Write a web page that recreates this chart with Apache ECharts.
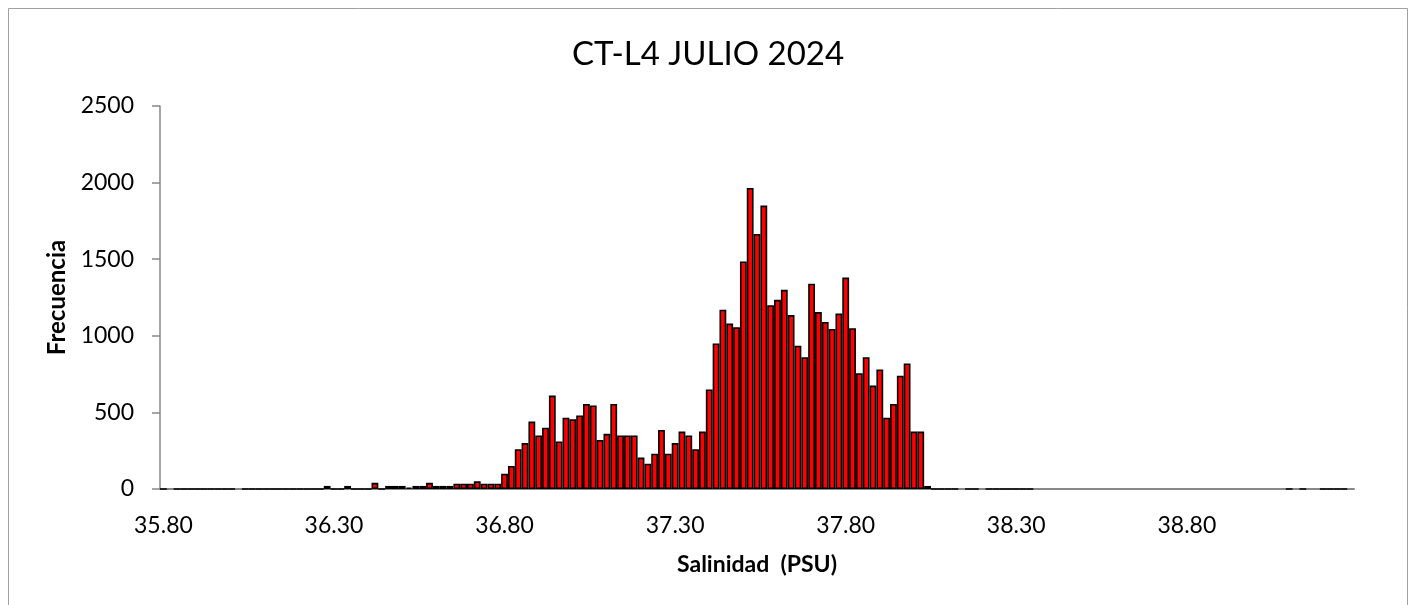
<!DOCTYPE html>
<html>
<head>
<meta charset="utf-8">
<script src="https://cdn.jsdelivr.net/npm/echarts@6/dist/echarts.min.js"></script>
<style>
  html, body { margin: 0; padding: 0; background: #ffffff; }
  #chart { width: 1416px; height: 605px; }
</style>
</head>
<body>
<div id="chart"></div>
<script>
// Bin labels (salinity, PSU), one per histogram bar
const categories = [
  '35.80','35.82','35.84','35.86','35.88','35.90','35.92','35.94','35.96','35.98',
  '36.00','36.02','36.04','36.06','36.08','36.10','36.12','36.14','36.16','36.18',
  '36.20','36.22','36.24','36.26','36.28','36.30','36.32','36.34','36.36','36.38',
  '36.40','36.42','36.44','36.46','36.48','36.50','36.52','36.54','36.56','36.58',
  '36.60','36.62','36.64','36.66','36.68','36.70','36.72','36.74','36.76','36.78',
  '36.80','36.82','36.84','36.86','36.88','36.90','36.92','36.94','36.96','36.98',
  '37.00','37.02','37.04','37.06','37.08','37.10','37.12','37.14','37.16','37.18',
  '37.20','37.22','37.24','37.26','37.28','37.30','37.32','37.34','37.36','37.38',
  '37.40','37.42','37.44','37.46','37.48','37.50','37.52','37.54','37.56','37.58',
  '37.60','37.62','37.64','37.66','37.68','37.70','37.72','37.74','37.76','37.78',
  '37.80','37.82','37.84','37.86','37.88','37.90','37.92','37.94','37.96','37.98',
  '38.00','38.02','38.04','38.06','38.08','38.10','38.12','38.14','38.16','38.18',
  '38.20','38.22','38.24','38.26','38.28','38.30','38.32','38.34','38.36','38.38',
  '38.40','38.42','38.44','38.46','38.48','38.50','38.52','38.54','38.56','38.58',
  '38.60','38.62','38.64','38.66','38.68','38.70','38.72','38.74','38.76','38.78',
  '38.80','38.82','38.84','38.86','38.88','38.90','38.92','38.94','38.96','38.98',
  '39.00','39.02','39.04','39.06','39.08','39.10','39.12','39.14','39.16','39.18',
  '39.20','39.22','39.24','39.26','39.28'
];

// Frequency per bin ('-' = empty bin, no bar drawn)
const frecuencia = [
  0,'-',0,0,0,0,0,0,0,0,
  0,'-',0,0,0,0,0,0,0,0,
  0,0,0,0,20,0,0,20,0,0,
  0,40,0,20,20,20,10,20,20,40,
  20,20,20,35,35,35,50,35,35,35,
  100,150,260,300,440,350,400,610,310,465,
  455,480,555,545,320,360,555,350,350,350,
  205,165,230,385,230,300,375,350,260,375,
  650,950,1170,1080,1055,1485,1965,1665,1850,1200,
  1235,1300,1135,935,860,1340,1155,1090,1045,1145,
  1380,1050,755,860,675,780,465,555,740,820,
  375,375,20,0,0,0,0,'-',0,0,
  '-',0,0,0,0,0,0,0,'-','-',
  '-','-','-','-','-','-','-','-','-','-',
  '-','-','-','-','-','-','-','-','-','-',
  '-','-','-','-','-','-','-','-','-','-',
  '-','-','-','-','-',0,'-',0,'-','-',
  0,0,0,0,'-'
];

// Tick labels shown on the x axis
const xTickLabels = ['35.80','36.30','36.80','37.30','37.80','38.30','38.80'];

const FONT = 'Lato';
const chart = echarts.init(document.getElementById('chart'), null, { renderer: 'canvas' });

chart.setOption({
  backgroundColor: '#ffffff',
  animation: false,
  title: {
    text: 'CT-L4 JULIO 2024',
    left: 'center',
    top: 33,
    textStyle: { fontFamily: FONT, fontSize: 33, fontWeight: 'normal', color: '#000000' }
  },
  graphic: [{
    type: 'rect',
    shape: { x: 8.5, y: 8.5, width: 1399, height: 700 },
    style: { fill: 'none', stroke: '#a0a0a0', lineWidth: 1 },
    silent: true
  }],
  grid: { left: 160, right: 62, top: 106, bottom: 116 },
  xAxis: {
    type: 'category',
    data: categories,
    name: 'Salinidad  (PSU)',
    nameLocation: 'middle',
    nameGap: 64,
    nameTextStyle: { fontFamily: FONT, fontSize: 23, fontWeight: 'bold', color: '#000000' },
    axisLine: { show: true, lineStyle: { color: '#888888', width: 2 } },
    axisTick: { show: false },
    axisLabel: {
      interval: function (index, value) { return xTickLabels.indexOf(value) !== -1; },
      margin: 25,
      fontFamily: FONT,
      fontSize: 23,
      color: '#000000'
    },
    splitLine: { show: false }
  },
  yAxis: {
    type: 'value',
    min: 0,
    max: 2500,
    interval: 500,
    name: 'Frecuencia',
    nameLocation: 'middle',
    nameGap: 81,
    nameTextStyle: { fontFamily: FONT, fontSize: 24, fontWeight: 'bold', color: '#000000' },
    axisLine: { show: true, lineStyle: { color: '#888888', width: 1.5 } },
    axisTick: { show: true, inside: false, length: 8, lineStyle: { color: '#888888', width: 1.5 } },
    axisLabel: {
      margin: 26, fontFamily: FONT, fontSize: 23, color: '#000000',
      formatter: function (v) { return String(v); }
    },
    splitLine: { show: false }
  },
  series: [{
    type: 'bar',
    data: frecuencia,
    barCategoryGap: '0%',
    itemStyle: { color: '#ff0000', borderColor: '#000000', borderWidth: 1.6 }
  }]
});
</script>
</body>
</html>
